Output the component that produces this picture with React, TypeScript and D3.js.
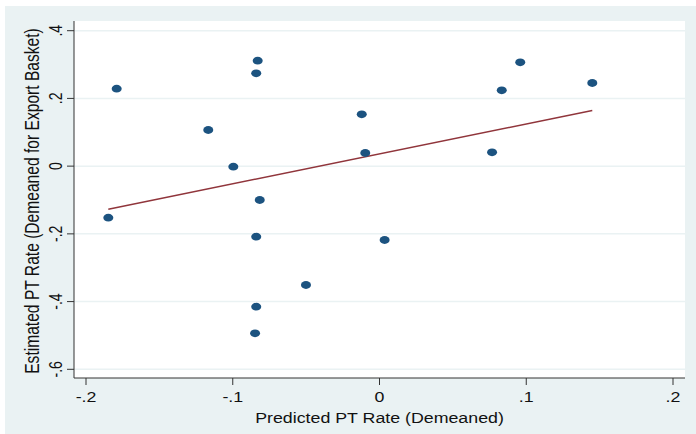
import React from "react";
import * as d3 from "d3";

// predicted PT rate (x) vs estimated PT rate (y), one entry per country
const predicted = [
  -0.1848, -0.1791, -0.1167, -0.0996, -0.083, -0.084, -0.0816, -0.084, -0.084,
  -0.0848, -0.0501, -0.0121, -0.0097, 0.0035, 0.0767, 0.0833, 0.0959, 0.145,
];
const estimated = [
  -0.1523, 0.2287, 0.1067, -0.0017, 0.3114, 0.2742, -0.1, -0.2084, -0.4151,
  -0.4937, -0.351, 0.1531, 0.0388, -0.2181, 0.0409, 0.224, 0.3067, 0.2455,
];
const xTicks = [-0.2, -0.1, 0, 0.1, 0.2];
const xTickLabels = ["-.2", "-.1", "0", ".1", ".2"];
const yTicks = [-0.6, -0.4, -0.2, 0, 0.2, 0.4];
const yTickLabels = ["-.6", "-.4", "-.2", "0", ".2", ".4"];

const W = 696;
const H = 434;
const plot = { left: 74, right: 685, top: 21, bottom: 378 };
const stretch = 1.27; // the source picture is widened a bit
const font = "'Liberation Sans', Arial, sans-serif";

export default function App() {
  document.body.style.margin = "0";

  const x = d3.scaleLinear().domain([-0.2, 0.2]).range([86, 673]);
  const y = d3.scaleLinear().domain([-0.6, 0.4]).range([369.3, 30.7]);

  // linear fit, like Stata's lfit
  const mx = d3.mean(predicted)!;
  const my = d3.mean(estimated)!;
  let sxy = 0;
  let sxx = 0;
  predicted.forEach((v, i) => {
    sxy += (v - mx) * (estimated[i] - my);
    sxx += (v - mx) * (v - mx);
  });
  const slope = sxy / sxx;
  const ends = d3.extent(predicted) as [number, number];
  const fit = d3
    .line<number>()
    .x((d) => x(d))
    .y((d) => y(my + slope * (d - mx)));

  return (
    <svg width={W} height={H} style={{ display: "block" }} fontFamily={font}>
      <rect x={0} y={0} width={W} height={H} fill="#ffffff" />
      <rect x={5} y={6} width={W - 5} height={H - 6} fill="#eaf2f3" />
      <rect
        x={plot.left}
        y={plot.top}
        width={plot.right - plot.left}
        height={plot.bottom - plot.top}
        fill="#ffffff"
      />
      {yTicks.map((t) => (
        <line
          key={"g" + t}
          x1={plot.left}
          x2={plot.right}
          y1={y(t)}
          y2={y(t)}
          stroke="#eaf2f3"
          strokeWidth={1.5}
        />
      ))}
      <path d={fit(ends) || ""} fill="none" stroke="#90353b" strokeWidth={1.5} />
      {predicted.map((v, i) => (
        <ellipse
          key={"p" + i}
          cx={x(v)}
          cy={y(estimated[i])}
          rx={5}
          ry={3.9}
          fill="#1c5380"
        />
      ))}
      <line x1={plot.left} x2={plot.left} y1={plot.top} y2={plot.bottom} stroke="#333" />
      <line x1={plot.left} x2={plot.right} y1={plot.bottom} y2={plot.bottom} stroke="#333" />
      {yTicks.map((t, i) => (
        <g key={"yt" + t}>
          <line x1={plot.left - 7} x2={plot.left} y1={y(t)} y2={y(t)} stroke="#333" />
          <text
            transform={`translate(62,${y(t)}) scale(${stretch},1) rotate(-90)`}
            textAnchor="middle"
            fontSize={14}
            fill="#111"
          >
            {yTickLabels[i]}
          </text>
        </g>
      ))}
      {xTicks.map((t, i) => (
        <g key={"xt" + t}>
          <line x1={x(t)} x2={x(t)} y1={plot.bottom} y2={plot.bottom + 7} stroke="#333" />
          <text
            transform={`translate(${x(t)},401.7) scale(${stretch},1)`}
            textAnchor="middle"
            fontSize={14}
            fill="#111"
          >
            {xTickLabels[i]}
          </text>
        </g>
      ))}
      <text
        transform={`translate(${(plot.left + plot.right) / 2},423) scale(${stretch},1)`}
        textAnchor="middle"
        fontSize={14}
        fill="#111"
      >
        Predicted PT Rate (Demeaned)
      </text>
      <text
        transform={`translate(39,201) scale(${stretch},1) rotate(-90)`}
        textAnchor="middle"
        fontSize={15.6}
        fill="#111"
      >
        Estimated PT Rate (Demeaned for Export Basket)
      </text>
    </svg>
  );
}
